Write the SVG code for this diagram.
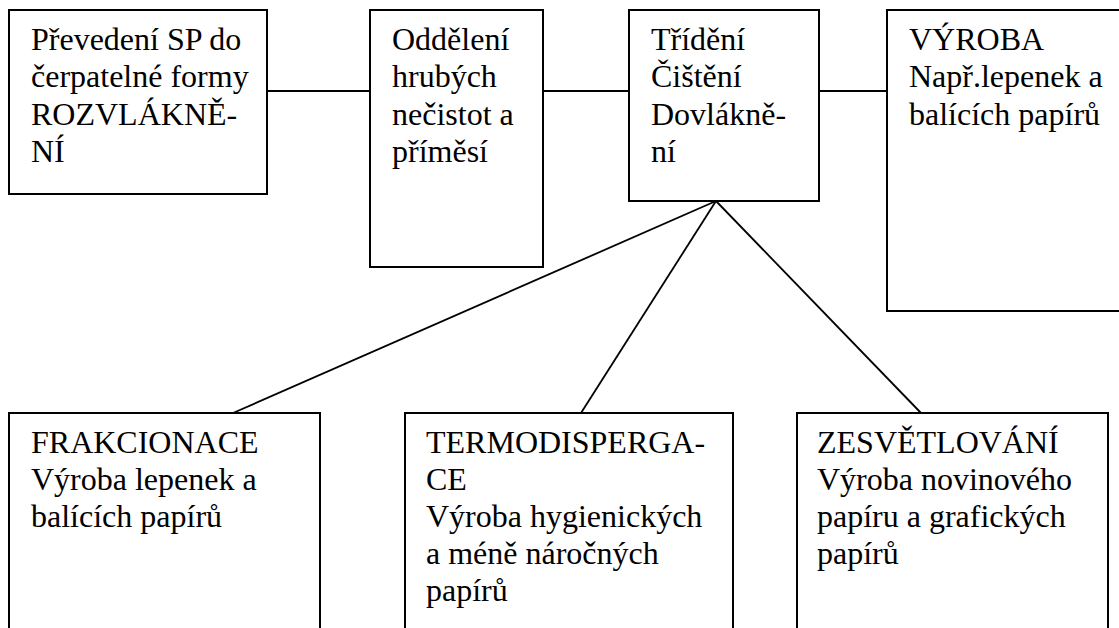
<svg xmlns="http://www.w3.org/2000/svg" width="1119" height="628" viewBox="0 0 1119 628">
<style>
.box{fill:#fff;stroke:#000;stroke-width:2}
.ln{stroke:#000;stroke-width:1.8;fill:none}
text{font-family:"Liberation Serif","Times New Roman",serif;font-size:32px;fill:#000}
</style>
<rect width="1119" height="628" fill="#fff"/>
<g id="connectors">
<line class="ln" x1="267" y1="91" x2="370" y2="91"/>
<line class="ln" x1="543" y1="91" x2="629" y2="91"/>
<line class="ln" x1="819" y1="91" x2="887" y2="91"/>
<line class="ln" x1="716" y1="201" x2="233" y2="413"/>
<line class="ln" x1="716" y1="201" x2="581" y2="413"/>
<line class="ln" x1="716" y1="201" x2="921" y2="413"/>
</g>
<g id="n1">
<rect class="box" x="9" y="10" width="258" height="184"/>
<text x="31" y="50">Převedení SP do</text>
<text x="31" y="87">čerpatelné formy</text>
<text x="31" y="125">ROZVLÁKNĚ-</text>
<text x="31" y="162">NÍ</text>
</g>
<g id="n2">
<rect class="box" x="370" y="10" width="173" height="257"/>
<text x="392" y="50">Oddělení</text>
<text x="392" y="87">hrubých</text>
<text x="392" y="125">nečistot a</text>
<text x="392" y="162">příměsí</text>
</g>
<g id="n3">
<rect class="box" x="629" y="10" width="190" height="191"/>
<text x="651" y="50">Třídění</text>
<text x="651" y="87">Čištění</text>
<text x="651" y="125">Dovlákně-</text>
<text x="651" y="162">ní</text>
</g>
<g id="n4">
<rect class="box" x="887" y="10" width="240" height="301"/>
<text x="909" y="50">VÝROBA</text>
<text x="909" y="87">Např.lepenek a</text>
<text x="909" y="125">balících papírů</text>
</g>
<g id="n5">
<rect class="box" x="9" y="413" width="311" height="230"/>
<text x="31" y="453">FRAKCIONACE</text>
<text x="31" y="490">Výroba lepenek a</text>
<text x="31" y="527">balících papírů</text>
</g>
<g id="n6">
<rect class="box" x="405" y="413" width="328" height="230"/>
<text x="426" y="453">TERMODISPERGA-</text>
<text x="426" y="490">CE</text>
<text x="426" y="527">Výroba hygienických</text>
<text x="426" y="564">a méně náročných</text>
<text x="426" y="601">papírů</text>
</g>
<g id="n7">
<rect class="box" x="797" y="413" width="311" height="230"/>
<text x="817" y="453">ZESVĚTLOVÁNÍ</text>
<text x="817" y="490">Výroba novinového</text>
<text x="817" y="527">papíru a grafických</text>
<text x="817" y="564">papírů</text>
</g>
</svg>
